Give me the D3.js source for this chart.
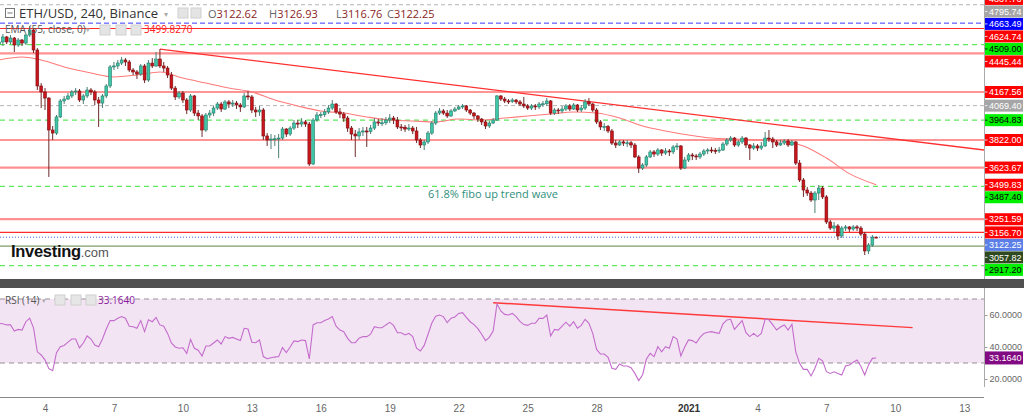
<!DOCTYPE html>
<html><head><meta charset="utf-8">
<script src="https://cdn.jsdelivr.net/npm/d3@7"></script>
<style>
html,body{margin:0;padding:0;background:#fff;}
svg{display:block;font-family:"Liberation Sans",Arial,sans-serif;}
</style></head><body>
<svg id="chart" width="1024" height="420"></svg>
<script>
// ---------------- DATA ----------------
const firstOpen = 4513;
const closes = [
4528,4564,4528,4556,4506,4542,4520,4578,4614,4470,
4211,4168,4124,3894,3872,3988,4103,4117,4139,4168,
4175,4110,4139,4182,4168,4110,4088,4139,4211,4348,
4355,4376,4398,4384,4326,4312,4297,4355,4254,4376,
4355,4405,4355,4340,4290,4196,4132,4160,4110,4038,
4139,4016,3995,3894,4002,4016,4052,4081,4045,4096,
4081,4088,4074,4060,4139,4132,4038,4024,4038,3851,
3822,3829,3831,3836,3901,3865,3908,3944,3937,3952,
3937,3649,3966,4002,4005,4024,4052,4081,4024,4009,
3980,3908,3865,3851,3880,3887,3884,3908,3952,3944,
3946,3966,3980,3966,3916,3914,3901,3908,3887,3822,
3786,3808,3872,3944,4016,4031,4016,3995,4031,4045,
4060,4067,4038,4016,3995,3973,3952,3923,3944,3966,
4139,4117,4103,4101,4110,4096,4081,4067,4052,4067,
4060,4081,4083,4103,4016,4038,4031,4045,4067,4045,
4074,4038,4052,4096,4081,4038,3952,3916,3918,3887,
3800,3786,3808,3800,3802,3786,3700,3620,3642,3700,
3736,3721,3750,3728,3743,3736,3772,3779,3620,3678,
3714,3707,3700,3721,3743,3750,3748,3743,3750,3793,
3822,3836,3786,3808,3836,3786,3764,3779,3764,3779,
3836,3829,3808,3786,3800,3815,3786,3808,3656,3534,
3462,3440,3390,3440,3476,3412,3232,3188,3203,3131,
3188,3196,3181,3196,3188,3145,3023,3066,3122.62,3122.25];
const highs = [
4571,4585,4571,4578,4564,4556,4549,4592,4643,4621,
4484,4232,4196,4130,3923,4002,4117,4139,4160,4182,
4196,4189,4153,4204,4196,4182,4132,4153,4225,4362,
4384,4398,4420,4412,4398,4340,4326,4369,4369,4398,
4412,4456,4477,4384,4355,4312,4211,4175,4175,4124,
4153,4146,4038,4009,4016,4038,4067,4096,4096,4110,
4110,4110,4103,4088,4160,4175,4146,4060,4067,4052,
3872,3865,3858,3865,3916,3908,3923,3966,3966,3980,
3966,3952,3980,4024,4024,4045,4074,4110,4088,4052,
4024,3995,3923,3894,3908,3916,3916,3930,3980,3973,
3980,3988,4009,3995,3988,3937,3930,3937,3923,3916,
3836,3822,3887,3959,4031,4052,4045,4038,4045,4060,
4074,4081,4074,4045,4024,4002,3980,3966,3959,3980,
4146,4146,4132,4117,4124,4117,4110,4132,4081,4081,
4081,4096,4103,4124,4110,4052,4052,4067,4081,4081,
4088,4081,4074,4117,4124,4088,4052,3966,3944,3930,
3901,3822,3822,3822,3822,3815,3800,3714,3656,3714,
3750,3750,3764,3757,3764,3757,3786,3800,3786,3700,
3728,3728,3721,3736,3757,3764,3772,3764,3772,3808,
3836,3851,3844,3822,3851,3844,3793,3800,3793,3808,
3880,3894,3844,3822,3822,3829,3829,3822,3815,3678,
3548,3484,3455,3455,3498,3491,3426,3246,3232,3217,
3203,3210,3203,3210,3210,3203,3160,3080,3138,3126.93];
const lows = [
4499,4499,4513,4513,4456,4492,4499,4506,4564,4448,
4182,4052,4038,3556,3822,3858,3980,4081,4110,4124,
4146,4096,4081,4124,4146,4074,3916,4052,4124,4196,
4326,4333,4362,4355,4312,4290,4261,4283,4232,4240,
4340,4348,4340,4312,4268,4182,4110,4117,4088,4009,
4024,3995,3966,3844,3880,3980,3995,4038,4024,4038,
4052,4060,4045,4024,4052,4110,4016,3988,3995,3822,
3779,3757,3779,3692,3822,3844,3851,3894,3908,3916,
3916,3635,3642,3952,3980,3988,4009,4038,4009,3980,
3952,3880,3822,3700,3822,3851,3772,3865,3894,3923,
3923,3930,3944,3937,3901,3887,3880,3887,3865,3800,
3764,3750,3793,3858,3930,4002,4002,3980,3988,4024,
4038,4045,4024,4002,3973,3952,3930,3901,3908,3937,
3959,4103,4088,4081,4088,4081,4067,4052,4038,4038,
4038,4045,4060,4067,4002,4002,4009,4016,4031,4031,
4038,4024,4024,4038,4067,4024,3937,3894,3887,3872,
3786,3764,3779,3779,3772,3764,3692,3584,3606,3628,
3692,3700,3707,3707,3714,3707,3721,3750,3606,3613,
3664,3678,3678,3685,3707,3721,3728,3721,3728,3743,
3779,3808,3772,3772,3793,3764,3678,3750,3743,3750,
3772,3808,3764,3772,3779,3786,3772,3779,3642,3520,
3412,3419,3376,3296,3390,3397,3217,3174,3160,3102,
3116,3167,3160,3167,3167,3131,2994,3001,3052,3116.76];
const rsiValues = [
54.8,54.5,53.8,53.8,50,51,50.6,55.8,58,52,
37,35,32,26.5,25.2,36.5,40.2,41,43,45,
45,39.4,42.5,46.9,45,41.2,40.2,45,51.2,56.5,
56.5,58,59,58,53,52.7,51.7,56.5,49.6,57,
55.8,58.5,53.8,53,48.5,42.5,40,39.2,39.5,36,
44.8,39.2,38,34.4,40.6,40.6,42.5,44.4,41.9,46.5,
45.4,46,45,44,51.7,51.2,43,42.7,44.4,34,
32.7,33.3,33.7,34,39.6,36.5,40,43.8,43.4,44.4,
44,32.5,53.8,55.2,55.2,56.5,57.5,59,53,50.6,
49.6,45.4,42.7,42.7,45.5,46.5,46.5,48,52.7,52,
52,53.8,55.4,53.5,48.9,48.9,47.5,48.5,46.5,39.2,
37.5,41,48,55,59.2,60,59,55.2,58,58.8,
61,61.5,58.5,55.8,54,51.5,48,44,46,50,
66.9,62.5,60.4,60,61,59,56,54,53.5,54.8,
54.8,57.9,57.9,60,46.9,51,50.6,53,55.5,53,
55.8,51.7,53.5,57.3,54.8,48.5,38.5,35.6,35.6,33.5,
26.7,26,29.4,28.1,28.1,27,23.5,19,22.5,32.5,
36,34,40.2,37,40.2,39.2,46.5,45,34.4,40,
44.4,44,42.5,46,48.5,49.2,49.6,49,48.5,54.5,
56.9,57.3,51,53.8,56.5,49,46.5,48.5,46.5,48.5,
57.3,57,53.8,50.6,52.5,53.8,50.6,54.2,37,29.8,
26,26,21.9,26.7,32.9,31.4,24.6,23.5,24.5,23.5,
22.5,28.1,28.8,30.5,31.9,28,22.5,28.8,32.9,33.164];
const emaCandle = [0,6,12,18,24,30,36,42,48,54,60,66,72,78,84,90,96,102,108,114,120,126,132,138,144,150,156,162,168,174,180,186,192,198,204,210,216,222,229];
const emaValues = [4398,4420,4391,4340,4304,4276,4290,4312,4268,4232,4196,4168,4110,4067,4031,4016,3988,3966,3959,3952,3973,3966,3980,3995,4009,4024,4016,3980,3923,3887,3858,3836,3829,3822,3815,3779,3692,3580,3499.83];
const levelPrices = [4837.76,4795.74,4663.49,4624.74,4509.00,4445.44,4167.56,4069.40,3964.83,3822.00,3623.67,3499.83,3487.40,3251.59,3156.70,3122.25,3057.82,2917.20];
const levelKinds  = ["resist","grey","blue","resist","fib","zone","resist","grey","fib","resist","zone","ema","fib","zone","resist","last","low","fib"];
const xTickDates = ["2020-12-04","2020-12-07","2020-12-10","2020-12-13","2020-12-16","2020-12-19","2020-12-22","2020-12-25","2020-12-28","2021-01-01","2021-01-04","2021-01-07","2021-01-10","2021-01-13"];
const xTickLabels = ["4","7","10","13","16","19","22","25","28","2021","4","7","10","13"];
const rsiTicks = [20,40,60];
const priceTrend = [["2020-12-09T00:00Z",4477],["2021-01-14T00:00Z",3747]];
const rsiTrend = [["2020-12-23T12:00Z",67.7],["2021-01-10T18:00Z",52.1]];
const lastOHLC = ["3122.62","3126.93","3116.76","3122.25"];
const rsiLast = 33.164;
const emaLast = 3499.827;

// ---------------- LAYOUT ----------------
const plotR = 984, mainBot = 279, rsiTop = 288, rsiBot = 397;
const svg = d3.select("#chart");
const T0 = Date.UTC(2020,11,2), H4 = 4*3600e3;
const x = d3.scaleUtc().domain([Date.UTC(2020,11,4), Date.UTC(2021,0,13)]).range([45, 964.3]);
const y = d3.scaleLinear().domain([2814, 4830]).range([280, 0]);
const yR = d3.scaleLinear().domain([0,100]).range([411, 251]);
const tOf = i => new Date(T0 + i*H4);

const defs = svg.append("defs");
defs.append("clipPath").attr("id","cm").append("rect").attr("x",0).attr("y",0).attr("width",plotR).attr("height",mainBot);
defs.append("clipPath").attr("id","cl").append("rect").attr("x",0).attr("y",0).attr("width",1024).attr("height",mainBot);
defs.append("clipPath").attr("id","cr").append("rect").attr("x",0).attr("y",rsiTop).attr("width",plotR).attr("height",rsiBot-rsiTop);

const lineStyle = {
  resist:{s:"#ff2a2a",w:1.2,d:null},
  grey:{s:"#b4b4b4",w:1,d:"4,3"},
  blue:{s:"#3838ff",w:1,d:"5,3"},
  fib:{s:"#5ee85e",w:1.3,d:"5,4"},
  zone:{s:"#ff9090",w:2.2,d:null},
  last:{s:"#4a6ee0",w:1,d:"1,2"},
  low:{s:"#7f9c6c",w:1.3,d:null}
};
const labStyle = {
  resist:["#ff0000","#fff"], grey:["#a6a6a6","#fff"], blue:["#0000ff","#fff"],
  fib:["#00f000","#000"], zone:["#ff0000","#fff"], ema:["#ff0000","#fff"],
  last:["#5b7fe6","#fff"], low:["#2f4a1f","#fff"]
};

// main panel
const gm = svg.append("g").attr("clip-path","url(#cm)");
levelPrices.forEach((p,i)=>{
  const st = lineStyle[levelKinds[i]]; if(!st) return;
  gm.append("line").attr("x1",0).attr("x2",plotR).attr("y1",y(p)).attr("y2",y(p))
    .attr("stroke",st.s).attr("stroke-width",st.w).attr("stroke-dasharray",st.d);
});
gm.append("path").datum(emaCandle.map((k,i)=>[tOf(k),emaValues[i]]))
  .attr("fill","none").attr("stroke","#ff7a7a").attr("stroke-width",1.1)
  .attr("d", d3.line().x(d=>x(d[0])).y(d=>y(d[1])).curve(d3.curveMonotoneX));
gm.append("line").attr("x1",x(new Date(priceTrend[0][0]))).attr("y1",y(priceTrend[0][1]))
  .attr("x2",x(new Date(priceTrend[1][0]))).attr("y2",y(priceTrend[1][1]))
  .attr("stroke","#ff3030").attr("stroke-width",1.3);
const candles = closes.map((c,i)=>{const o = i?closes[i-1]:firstOpen; return {t:tOf(i),o,c,h:Math.max(highs[i],o,c),l:Math.min(lows[i],o,c)};});
const cg = gm.append("g");
candles.forEach(d=>{
  const up = d.c>=d.o, cx = x(d.t);
  const edge = up? "#25796a":"#7c0c10", fill = up? "#3ec7a6":"#c8161c";
  cg.append("line").attr("x1",cx).attr("x2",cx).attr("y1",y(d.h)).attr("y2",y(d.l)).attr("stroke",up?"#4f7f75":"#6e2a2a").attr("stroke-width",1);
  const yt = y(Math.max(d.o,d.c)), yb = y(Math.min(d.o,d.c));
  cg.append("rect").attr("x",cx-1.4).attr("y",yt).attr("width",2.8).attr("height",Math.max(1,yb-yt))
    .attr("fill",fill).attr("stroke",edge).attr("stroke-width",0.6);
});
svg.append("text").attr("x",428).attr("y",198).attr("font-size",11).attr("font-family","'Open Sans',sans-serif")
  .attr("fill","#2f8f7c").text("61.8% fibo up trend wave");

// header
svg.append("rect").attr("x",5.5).attr("y",8.5).attr("width",9).attr("height",9).attr("fill","#fff").attr("stroke","#777");
svg.append("line").attr("x1",7.5).attr("x2",12.5).attr("y1",13).attr("y2",13).attr("stroke","#777");
svg.append("text").attr("x",19).attr("y",18).attr("font-size",13).attr("font-family","'Open Sans',sans-serif").attr("fill","#333").text("ETH/USD, 240, Binance");
svg.append("text").attr("x",164).attr("y",17).attr("font-size",8).attr("fill","#aaa").text("▾");
[178,191].forEach(ix=>svg.append("rect").attr("x",ix).attr("y",8).attr("width",10).attr("height",10).attr("fill","#e4e4e4").attr("stroke","#d0d0d0"));
["O","H","L","C"].forEach((k,i)=>{
  const t = svg.append("text").attr("x",[208,269,336,387][i]).attr("y",18).attr("font-size",11).attr("font-family","'Open Sans',sans-serif");
  t.append("tspan").attr("fill","#666").text(k);
  t.append("tspan").attr("fill","#8a2424").text(lastOHLC[i]);
});
svg.append("text").attr("x",5).attr("y",33).attr("font-size",10).attr("fill","#555").attr("font-family","'Open Sans',sans-serif").text("EMA (55, close, 0)");
svg.append("text").attr("x",86).attr("y",32).attr("font-size",7).attr("fill","#aaa").text("▾");
[100,116,131].forEach(ix=>svg.append("rect").attr("x",ix).attr("y",25).attr("width",10).attr("height",10).attr("fill","#e4e4e4").attr("stroke","#d0d0d0"));
svg.append("text").attr("x",144).attr("y",33).attr("font-size",10).attr("fill","#ff2020").attr("font-family","'Open Sans',sans-serif").text(emaLast.toFixed(4));

// logo
const logo = svg.append("text").attr("x",11).attr("y",257);
logo.append("tspan").attr("font-size",16.5).attr("font-weight","bold").attr("fill","#111").attr("letter-spacing",-0.3).text("Investing");
logo.append("tspan").attr("font-size",13).attr("fill","#555").text(".com");

// right axis main
svg.append("line").attr("x1",plotR+0.5).attr("x2",plotR+0.5).attr("y1",0).attr("y2",mainBot).attr("stroke","#aaa");
const order = levelPrices.map((p,i)=>i).sort((a,b)=>levelPrices[b]-levelPrices[a]);
const lg = svg.append("g").attr("clip-path","url(#cl)");
let prev = -Infinity;
order.forEach(i=>{
  let yy = Math.max(y(levelPrices[i]), prev+12.5); prev = yy;
  const [bg,fg] = labStyle[levelKinds[i]];
  lg.append("rect").attr("x",plotR+1).attr("y",yy-6).attr("width",38).attr("height",12).attr("fill",bg);
  lg.append("line").attr("x1",plotR+1).attr("x2",plotR+3.5).attr("y1",yy).attr("y2",yy).attr("stroke",fg).attr("stroke-opacity",0.8);
  lg.append("text").attr("x",plotR+5).attr("y",yy+3.2).attr("font-size",9).attr("fill",fg).text(levelPrices[i].toFixed(2));
});

// separator
svg.append("rect").attr("x",0).attr("y",mainBot).attr("width",1024).attr("height",rsiTop-mainBot).attr("fill","#505050");

// RSI panel
const gr = svg.append("g").attr("clip-path","url(#cr)");
gr.append("rect").attr("x",0).attr("width",plotR).attr("y",yR(70)).attr("height",yR(30)-yR(70)).attr("fill","#f2e4f3");
[70,30].forEach(v=>gr.append("line").attr("x1",0).attr("x2",plotR).attr("y1",yR(v)).attr("y2",yR(v)).attr("stroke","#9a8f9a").attr("stroke-dasharray","5,4"));
gr.append("line").attr("x1",x(new Date(rsiTrend[0][0]))).attr("y1",yR(rsiTrend[0][1]))
  .attr("x2",x(new Date(rsiTrend[1][0]))).attr("y2",yR(rsiTrend[1][1])).attr("stroke","#ff3a3a").attr("stroke-width",1.4);
gr.append("path").datum(rsiValues).attr("fill","none").attr("stroke","#c46ccc").attr("stroke-width",1.1)
  .attr("d", d3.line().x((d,i)=>x(tOf(i))).y(d=>yR(d)));
svg.append("text").attr("x",5).attr("y",304).attr("font-size",10).attr("fill","#555").attr("font-family","'Open Sans',sans-serif").text("RSI (14)");
svg.append("text").attr("x",42).attr("y",303).attr("font-size",7).attr("fill","#aaa").text("▾");
[55,71,86].forEach(ix=>svg.append("rect").attr("x",ix).attr("y",295).attr("width",10).attr("height",10).attr("fill","#e6e6e6").attr("stroke","#d0d0d0"));
svg.append("text").attr("x",98).attr("y",304).attr("font-size",10).attr("fill","#8a1a9b").attr("font-family","'Open Sans',sans-serif").text(rsiLast.toFixed(4));

// RSI axis
const ra = svg.append("g").attr("transform",`translate(${plotR+0.5},0)`)
  .call(d3.axisRight(yR).tickValues(rsiTicks).tickFormat(d3.format(".4f")).tickSize(3).tickPadding(2));
ra.select(".domain").remove();
svg.append("line").attr("x1",plotR+0.5).attr("x2",plotR+0.5).attr("y1",rsiTop).attr("y2",387).attr("stroke","#aaa");
ra.selectAll("line").attr("stroke","#999");
ra.selectAll("text").attr("font-size",9).attr("fill","#666").attr("font-family","'Liberation Sans',Arial,sans-serif");
svg.append("rect").attr("x",plotR+1).attr("y",yR(rsiLast)-6.5).attr("width",38).attr("height",13).attr("fill","#820a82");
svg.append("text").attr("x",plotR+5).attr("y",yR(rsiLast)+3.2).attr("font-size",9).attr("fill","#fff").text(rsiLast.toFixed(4));

// bottom time axis
const xa = svg.append("g").attr("transform",`translate(0,${rsiBot})`)
  .call(d3.axisBottom(x).tickValues(xTickDates.map(s=>new Date(s+"T00:00Z"))).tickSize(0).tickPadding(8)
    .tickFormat((d,i)=>xTickLabels[i]));
xa.select(".domain").attr("d",`M0,0.5H${plotR}`).attr("stroke","#888");
xa.selectAll("text").attr("font-size",10).attr("font-family","'Liberation Sans',Arial,sans-serif")
  .attr("font-weight",(d,i)=>xTickLabels[i]==="2021"?"bold":"normal")
  .attr("fill",(d,i)=>xTickLabels[i]==="2021"?"#333":"#666");
</script>
</body></html>
